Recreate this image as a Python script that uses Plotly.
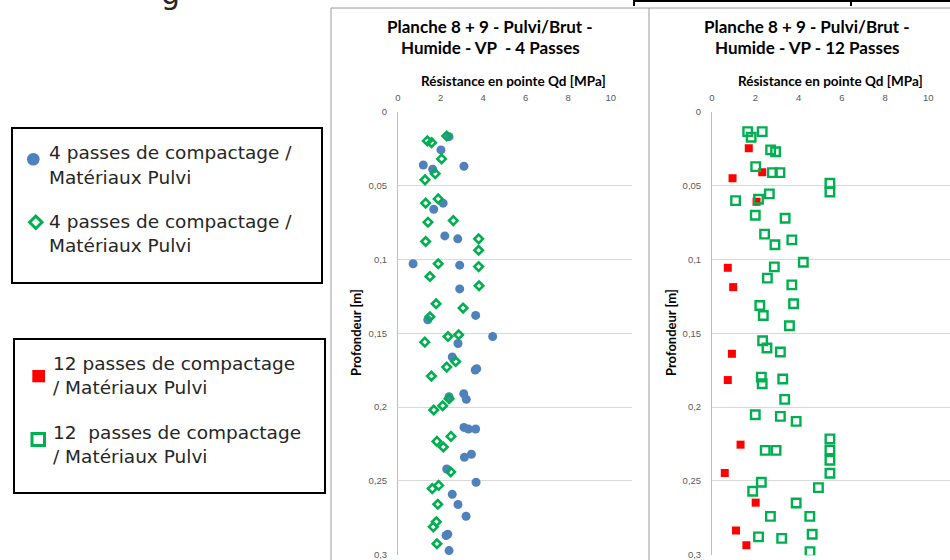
import plotly.graph_objects as go

# ---------------- data ----------------
# Left chart : 4 passes (Qd [MPa], depth [m])
blue4_qd = [2.40, 2.02, 1.19, 1.63, 3.10, 2.12, 1.68, 2.20, 2.81, 0.71, 2.90, 2.90, 3.65, 1.40,
            2.82, 4.45, 2.55, 3.70, 3.63, 3.09, 2.40, 3.21, 3.10, 3.31, 3.65, 3.45, 3.12, 2.29,
            3.67, 2.55, 2.82, 3.20, 2.34, 2.26, 2.40]
blue4_depth = [0.0167, 0.0257, 0.0359, 0.0388, 0.0368, 0.0618, 0.0659, 0.0840, 0.0860, 0.1029,
               0.1038, 0.1199, 0.1379, 0.1409, 0.1569, 0.1522, 0.1661, 0.1740, 0.1749, 0.1910,
               0.1930, 0.1948, 0.2138, 0.2149, 0.2149, 0.2320, 0.2341, 0.2420, 0.2510, 0.2592,
               0.2661, 0.2740, 0.2862, 0.2871, 0.2973]

green4_qd = [2.29, 1.38, 1.58, 2.05, 1.75, 1.27, 1.89, 1.30, 1.41, 2.60, 1.30, 3.79, 3.79, 1.89,
             3.79, 1.50, 3.81, 1.79, 3.06, 1.50, 1.26, 2.35, 2.85, 2.71, 2.29, 1.57, 2.40, 2.10,
             1.68, 2.49, 1.83, 2.13, 2.48, 1.91, 1.61, 1.87, 1.80, 1.66, 1.83]
green4_depth = [0.0163, 0.0196, 0.0208, 0.0318, 0.0418, 0.0460, 0.0589, 0.0618, 0.0747, 0.0736,
                0.0878, 0.0860, 0.0937, 0.1029, 0.1048, 0.1115, 0.1178, 0.1300, 0.1329, 0.1388,
                0.1560, 0.1522, 0.1510, 0.1691, 0.1729, 0.1790, 0.1944, 0.1991, 0.2020, 0.2199,
                0.2233, 0.2271, 0.2440, 0.2531, 0.2553, 0.2659, 0.2778, 0.2812, 0.2927]

# Right chart : 12 passes
red12_qd = [1.70, 2.32, 0.95, 2.06, 0.73, 0.98, 0.92, 0.73, 1.32, 0.59, 2.02, 1.11, 1.59]
red12_depth = [0.0246, 0.0408, 0.0449, 0.0609, 0.1056, 0.1187, 0.1639, 0.1817, 0.2255, 0.2447,
               0.2648, 0.2837, 0.2937]

green12_qd = [1.65, 2.32, 1.81, 2.71, 2.94, 2.02, 2.79, 3.14, 5.45, 5.45, 2.65, 2.15, 1.09, 2.00,
              3.38, 2.43, 3.69, 2.91, 4.22, 2.88, 2.56, 3.69, 2.21, 3.77, 2.37, 3.58, 2.34, 2.54,
              3.16, 2.28, 2.32, 3.27, 3.36, 2.00, 3.16, 3.89, 5.45, 2.46, 2.96, 5.45, 5.45, 5.45,
              2.28, 1.88, 4.92, 3.89, 2.70, 4.52, 4.63, 2.15, 3.22, 4.53]
green12_depth = [0.0133, 0.0133, 0.0171, 0.0257, 0.0269, 0.0370, 0.0411, 0.0411, 0.0483, 0.0542,
                 0.0555, 0.0591, 0.0601, 0.0700, 0.0720, 0.0828, 0.0867, 0.0900, 0.1018, 0.1050,
                 0.1126, 0.1172, 0.1312, 0.1300, 0.1379, 0.1449, 0.1551, 0.1600, 0.1627, 0.1797,
                 0.1842, 0.1810, 0.1948, 0.2052, 0.2063, 0.2097, 0.2216, 0.2294, 0.2294, 0.2291,
                 0.2361, 0.2449, 0.2510, 0.2571, 0.2546, 0.2650, 0.2741, 0.2741, 0.2862, 0.2880,
                 0.2890, 0.2980]

x_ticks = [0, 2, 4, 6, 8, 10]
y_ticks = [0, 0.05, 0.1, 0.15, 0.2, 0.25, 0.3]

title_left = ["Planche 8 + 9 - Pulvi/Brut -", "Humide - VP  - 4 Passes"]
title_right = ["Planche 8 + 9 - Pulvi/Brut -", "Humide - VP - 12 Passes"]
x_title = "Résistance en pointe Qd [MPa]"
y_title = "Profondeur [m]"
legend1 = [["4 passes de compactage /", "Matériaux Pulvi"],
           ["4 passes de compactage /", "Matériaux Pulvi"]]
legend2 = [["12 passes de compactage", "/ Matériaux Pulvi"],
           ["12  passes de compactage", "/ Matériaux Pulvi"]]

BLUE = "#4F81BD"
GREEN = "#00B050"
RED = "#FF0000"

W, H = 950, 560
def X(px): return px / W
def Y(py): return 1 - py / H

fig = go.Figure()

fig.add_trace(go.Scatter(x=blue4_qd, y=blue4_depth, mode="markers", xaxis="x", yaxis="y",
                         marker=dict(symbol="circle", size=9, color=BLUE), showlegend=False))
fig.add_trace(go.Scatter(x=green4_qd, y=green4_depth, mode="markers", xaxis="x", yaxis="y",
                         marker=dict(symbol="diamond-open", size=6.5, color=GREEN,
                                     line=dict(width=2.6, color=GREEN)), showlegend=False))
fig.add_trace(go.Scatter(x=red12_qd, y=red12_depth, mode="markers", xaxis="x2", yaxis="y2",
                         marker=dict(symbol="square", size=8, color=RED), showlegend=False))
fig.add_trace(go.Scatter(x=green12_qd, y=green12_depth, mode="markers", xaxis="x2", yaxis="y2",
                         marker=dict(symbol="square-open", size=8.5, color=GREEN,
                                     line=dict(width=2.4, color=GREEN)), showlegend=False))

tickfont = dict(family="Liberation Sans", size=9.5, color="#595959")
xax = dict(range=[0, 11], tickvals=x_ticks, side="top", showgrid=False, zeroline=False,
           showline=False, ticks="", tickfont=tickfont, ticklabelstandoff=8, fixedrange=True)
yax = dict(range=[0.3005, 0], tickvals=y_ticks, showgrid=True, gridcolor="#D9D9D9", gridwidth=1,
           zeroline=False, showline=True, linecolor="#BFBFBF", linewidth=1, ticks="",
           tickfont=tickfont, ticklabelstandoff=8, domain=[Y(555.3), Y(112)], fixedrange=True)

fig.update_layout(
    width=W, height=H, margin=dict(l=0, r=0, t=0, b=0, autoexpand=False),
    paper_bgcolor="white", plot_bgcolor="white", separators=", ",
    xaxis=dict(xax, domain=[X(398), X(632)], anchor="y"),
    yaxis=dict(yax, anchor="x"),
    xaxis2=dict(xax, domain=[X(712), 1.0], anchor="y2"),
    yaxis2=dict(yax, anchor="x2"),
)

ann = []
shapes = []
tfont = dict(family="Lato", size=17, color="#000000")
for cx, lines in ((490, title_left), (807, title_right)):
    for i, t in enumerate(lines):
        ann.append(dict(x=X(cx), y=Y(26 + 21.5 * i), xref="paper", yref="paper", text="<b>%s</b>" % t,
                        showarrow=False, font=tfont, xanchor="center", yanchor="middle"))
for cx in (513, 830):
    ann.append(dict(x=X(cx), y=Y(81), xref="paper", yref="paper", text="<b>%s</b>" % x_title,
                    showarrow=False, font=dict(family="Lato", size=13.5, color="#000000"),
                    xanchor="center", yanchor="middle"))
for cx in (356, 671):
    ann.append(dict(x=X(cx), y=Y(333), xref="paper", yref="paper", text="<b>%s</b>" % y_title,
                    showarrow=False, textangle=-90,
                    font=dict(family="Lato", size=13, color="#000000"),
                    xanchor="center", yanchor="middle"))

# legend texts
lfont = dict(family="DejaVu Sans", size=18.5, color="#262626")
for (l1, l2), ty in zip(legend1, (153, 221.5)):
    ann.append(dict(x=X(47), y=Y(ty), xref="paper", yref="paper", text=l1, showarrow=False,
                    font=lfont, xanchor="left", yanchor="middle"))
    ann.append(dict(x=X(47), y=Y(ty + 24), xref="paper", yref="paper", text=l2, showarrow=False,
                    font=lfont, xanchor="left", yanchor="middle"))
for (l1, l2), ty in zip(legend2, (363, 432.5)):
    ann.append(dict(x=X(51), y=Y(ty), xref="paper", yref="paper", text=l1, showarrow=False,
                    font=lfont, xanchor="left", yanchor="middle"))
    ann.append(dict(x=X(51), y=Y(ty + 24), xref="paper", yref="paper", text=l2, showarrow=False,
                    font=lfont, xanchor="left", yanchor="middle"))

# partial slide title glyph at top
ann.append(dict(x=X(170), y=Y(-7), xref="paper", yref="paper", text="g", showarrow=False,
                font=dict(family="DejaVu Sans", size=30, color="#262626"),
                xanchor="center", yanchor="middle"))

# chart frames
frame = dict(color="#9A9A9A", width=1)
shapes.append(dict(type="line", xref="paper", yref="paper", x0=X(331), x1=1.0, y0=Y(8), y1=Y(8), line=frame))
shapes.append(dict(type="line", xref="paper", yref="paper", x0=X(331), x1=X(331), y0=Y(8), y1=0, line=frame))
shapes.append(dict(type="line", xref="paper", yref="paper", x0=X(649), x1=X(649), y0=Y(8), y1=0, line=frame))
# black marks at very top
blk = dict(color="#000000", width=2)
shapes.append(dict(type="line", xref="paper", yref="paper", x0=X(633), x1=1.0, y0=Y(1), y1=Y(1), line=blk))
shapes.append(dict(type="line", xref="paper", yref="paper", x0=X(634), x1=X(634), y0=Y(0), y1=Y(6), line=blk))
shapes.append(dict(type="line", xref="paper", yref="paper", x0=X(851), x1=X(851), y0=Y(0), y1=Y(6), line=blk))

# legend boxes
box = dict(color="#000000", width=2)
shapes.append(dict(type="rect", xref="paper", yref="paper", x0=X(12), x1=X(322), y0=Y(283), y1=Y(128), line=box))
shapes.append(dict(type="rect", xref="paper", yref="paper", x0=X(14), x1=X(325), y0=Y(493), y1=Y(339), line=box))

# legend swatches
shapes.append(dict(type="circle", xref="paper", yref="paper", x0=X(33.3 - 6.3), x1=X(33.3 + 6.3),
                   y0=Y(159.3 + 6.3), y1=Y(159.3 - 6.3), fillcolor=BLUE, line=dict(width=0)))
cx, cy, h = 35.8, 222.3, 6.2
shapes.append(dict(type="path", xref="paper", yref="paper",
                   path="M %f %f L %f %f L %f %f L %f %f Z" % (X(cx), Y(cy - h), X(cx + h), Y(cy), X(cx), Y(cy + h), X(cx - h), Y(cy)),
                   fillcolor="white", line=dict(color=GREEN, width=3)))
shapes.append(dict(type="rect", xref="paper", yref="paper", x0=X(32.3), x1=X(45), y0=Y(382.3), y1=Y(370),
                   fillcolor=RED, line=dict(width=0)))
shapes.append(dict(type="rect", xref="paper", yref="paper", x0=X(32), x1=X(44.5), y0=Y(445.5), y1=Y(433.5),
                   fillcolor="white", line=dict(color=GREEN, width=3)))

fig.update_layout(annotations=ann, shapes=shapes)
fig.write_html("out.html")
